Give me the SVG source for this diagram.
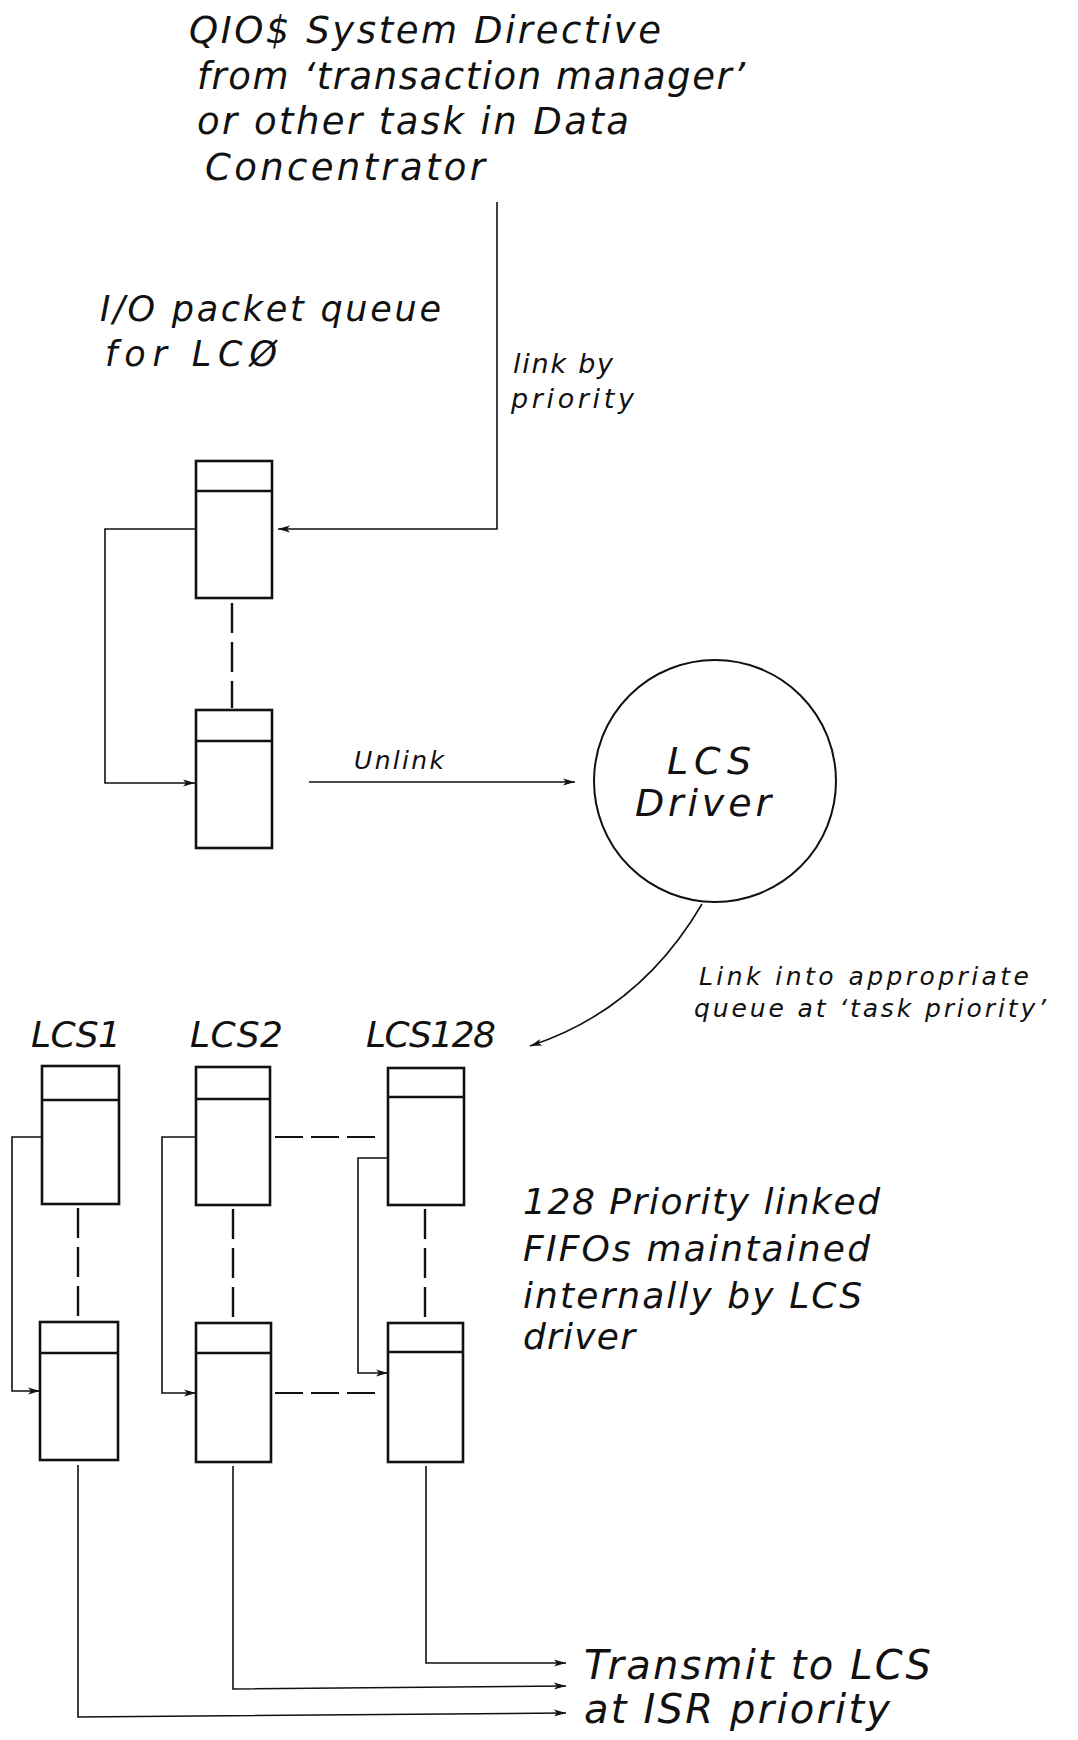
<svg xmlns="http://www.w3.org/2000/svg" width="1078" height="1740" viewBox="0 0 1078 1740">
<style>
.t{font-family:"DejaVu Sans","Liberation Sans",sans-serif;font-style:italic;fill:#111}
.box{fill:none;stroke:#111;stroke-width:2.6}
.ln{fill:none;stroke:#111;stroke-width:1.6}
.dv{fill:none;stroke:#111;stroke-width:2.4;stroke-dasharray:30 9}
.dh{fill:none;stroke:#111;stroke-width:2.2;stroke-dasharray:28 8}
</style>
<defs>
<marker id="ah" markerUnits="userSpaceOnUse" markerWidth="14" markerHeight="10" refX="12" refY="4" orient="auto">
<path d="M0,0.5 L12,4 L0,7.5 L3,4 z" fill="#111"/>
</marker>
</defs>
<rect width="1078" height="1740" fill="#fff"/>

<g id="qio-text">
<text class="t" font-size="37" x="189" y="43" textLength="472" lengthAdjust="spacing">QIO$ System Directive</text>
<text class="t" font-size="37" x="197" y="89" textLength="548" lengthAdjust="spacing">from ‘transaction manager’</text>
<text class="t" font-size="37" x="197" y="134" textLength="432" lengthAdjust="spacing">or other task in Data</text>
<text class="t" font-size="37" x="205" y="180" textLength="280" lengthAdjust="spacing">Concentrator</text>
</g>

<g id="queue-label">
<text class="t" font-size="35" x="100" y="321" textLength="341" lengthAdjust="spacing">I/O packet queue</text>
<text class="t" font-size="35" x="105" y="366" textLength="172" lengthAdjust="spacing">for LCØ</text>
</g>

<g id="packet1">
<rect class="box" x="196" y="461" width="76" height="137"/>
<line class="box" x1="196" y1="491" x2="272" y2="491"/>
</g>
<g id="packet2">
<rect class="box" x="196" y="710" width="76" height="138"/>
<line class="box" x1="196" y1="741" x2="272" y2="741"/>
</g>

<g id="lcs-driver">
<circle cx="715" cy="781" r="121" fill="none" stroke="#111" stroke-width="2"/>
<text class="t" font-size="38" x="667" y="774" textLength="84" lengthAdjust="spacing">LCS</text>
<text class="t" font-size="38" x="635" y="816" textLength="136" lengthAdjust="spacing">Driver</text>
</g>

<g id="lcs-labels">
<text class="t" font-size="36" x="31" y="1047" textLength="90" lengthAdjust="spacing">LCS1</text>
<text class="t" font-size="36" x="190" y="1047" textLength="93" lengthAdjust="spacing">LCS2</text>
<text class="t" font-size="36" x="366" y="1047" textLength="130" lengthAdjust="spacing">LCS128</text>
</g>

<g id="lcs1-top"><rect class="box" x="42" y="1066" width="77" height="138"/><line class="box" x1="42" y1="1100" x2="119" y2="1100"/></g>
<g id="lcs2-top"><rect class="box" x="196" y="1067" width="74" height="138"/><line class="box" x1="196" y1="1099" x2="270" y2="1099"/></g>
<g id="lcs128-top"><rect class="box" x="388" y="1068" width="76" height="137"/><line class="box" x1="388" y1="1097" x2="464" y2="1097"/></g>
<g id="lcs1-bottom"><rect class="box" x="40" y="1322" width="78" height="138"/><line class="box" x1="40" y1="1353" x2="118" y2="1353"/></g>
<g id="lcs2-bottom"><rect class="box" x="196" y="1323" width="75" height="139"/><line class="box" x1="196" y1="1353" x2="271" y2="1353"/></g>
<g id="lcs128-bottom"><rect class="box" x="388" y="1323" width="75" height="139"/><line class="box" x1="388" y1="1352" x2="463" y2="1352"/></g>

<g id="notes">
<text class="t" font-size="27" x="513" y="373" textLength="100" lengthAdjust="spacing">link by</text>
<text class="t" font-size="27" x="511" y="408" textLength="123" lengthAdjust="spacing">priority</text>
<text class="t" font-size="25" x="354" y="769" textLength="90" lengthAdjust="spacing">Unlink</text>
<text class="t" font-size="25" x="699" y="985" textLength="330" lengthAdjust="spacing">Link into appropriate</text>
<text class="t" font-size="25" x="694" y="1017" textLength="352" lengthAdjust="spacing">queue at ‘task priority’</text>
<text class="t" font-size="36" x="523" y="1214" textLength="357" lengthAdjust="spacing">128 Priority linked</text>
<text class="t" font-size="36" x="523" y="1261" textLength="347" lengthAdjust="spacing">FIFOs maintained</text>
<text class="t" font-size="36" x="523" y="1308" textLength="339" lengthAdjust="spacing">internally by LCS</text>
<text class="t" font-size="36" x="523" y="1349" textLength="112" lengthAdjust="spacing">driver</text>
<text class="t" font-size="40" x="584" y="1679" textLength="347" lengthAdjust="spacing">Transmit to LCS</text>
<text class="t" font-size="40" x="584" y="1723" textLength="306" lengthAdjust="spacing">at ISR priority</text>
</g>

<g id="connectors">
<path class="ln" d="M497,202 V529 H278" marker-end="url(#ah)"/>
<path class="ln" d="M196,529 H105 V783 H195" marker-end="url(#ah)"/>
<line class="dv" x1="232" y1="603" x2="232" y2="708"/>
<path class="ln" d="M309,782 H575" marker-end="url(#ah)"/>
<path class="ln" d="M702,904 Q640,1010 530,1046" marker-end="url(#ah)"/>

<path class="ln" d="M42,1137 H12 V1391 H40" marker-end="url(#ah)"/>
<path class="ln" d="M196,1137 H162 V1393 H196" marker-end="url(#ah)"/>
<path class="ln" d="M388,1158 H358 V1373 H388" marker-end="url(#ah)"/>
<line class="dh" x1="275" y1="1137" x2="383" y2="1137"/>
<line class="dh" x1="275" y1="1393" x2="383" y2="1393"/>
<line class="dv" x1="78" y1="1208" x2="78" y2="1321"/>
<line class="dv" x1="233" y1="1209" x2="233" y2="1322"/>
<line class="dv" x1="425" y1="1209" x2="425" y2="1322"/>

<path class="ln" d="M426,1466 V1663 H566" marker-end="url(#ah)"/>
<path class="ln" d="M233,1466 V1689 L566,1686" marker-end="url(#ah)"/>
<path class="ln" d="M78,1465 V1717 L566,1713" marker-end="url(#ah)"/>
</g>
</svg>
